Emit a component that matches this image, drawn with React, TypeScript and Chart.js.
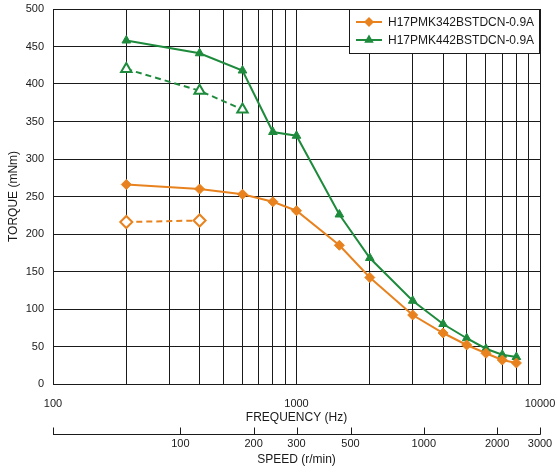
import React, { useEffect, useRef } from 'react';
import { Chart, registerables } from 'chart.js';
Chart.register(...registerables);

// ---- data ----
const freqGrid = [100, 200, 300, 400, 500, 600, 700, 800, 900, 1000, 2000, 3000, 4000, 5000, 6000, 7000, 8000, 9000, 10000];
const freqLabels = [100, 1000, 10000];
const speedTicks = [100, 200, 300, 500, 1000, 2000, 3000];
const torqueTicks = [0, 50, 100, 150, 200, 250, 300, 350, 400, 450, 500];

const seriesNames = ['H17PMK342BSTDCN-0.9A', 'H17PMK442BSTDCN-0.9A'];

const freq342 = [200, 400, 600, 800, 1000, 1500, 2000, 3000, 4000, 5000, 6000, 7000, 8000];
const torque342 = [266, 260, 253, 243, 231, 185, 142, 92, 68, 52, 41, 32, 28];
const freq442 = [200, 400, 600, 800, 1000, 1500, 2000, 3000, 4000, 5000, 6000, 7000, 8000];
const torque442 = [458, 441, 418, 336, 331, 226, 168, 111, 80, 61, 47, 39, 36];

const freq342Dashed = [200, 400];
const torque342Dashed = [216, 218];
const freq442Dashed = [200, 400, 600];
const torque442Dashed = [420, 391, 366];

const ORANGE = '#E8821E';
const GREEN = '#1E8B3C';
const INK = '#1a1a1a';
const FONT = '"Liberation Sans", Arial, Helvetica, sans-serif';

const toXY = (xs: number[], ys: number[]) => xs.map((x, i) => ({ x, y: ys[i] }));

const zeroPad = (s: any) => {
  s.paddingTop = 0;
  s.paddingBottom = 0;
  s.paddingLeft = 0;
  s.paddingRight = 0;
};

const speedAxisPlugin = {
  id: 'speedAxis',
  afterDraw(chart: any) {
    const s = chart.scales.x2;
    const ctx = chart.ctx;
    const y = s.top + 9.5;
    ctx.save();
    ctx.strokeStyle = INK;
    ctx.lineWidth = 1;
    ctx.beginPath();
    ctx.moveTo(s.left, y);
    ctx.lineTo(s.right + 0.5, y);
    const vals = [s.min, ...speedTicks];
    vals.forEach((v) => {
      const px = Math.round(s.getPixelForValue(v)) + 0.5;
      ctx.moveTo(px, y - 7);
      ctx.lineTo(px, y);
    });
    ctx.stroke();
    ctx.restore();
  },
};

const legendPlugin = {
  id: 'boxLegend',
  afterDraw(chart: any) {
    const ctx = chart.ctx;
    const area = chart.chartArea;
    const right = area.right;
    const left = 349;
    const top = area.top;
    const bottom = top + 44;
    ctx.save();
    ctx.fillStyle = '#fff';
    ctx.fillRect(left, top, right - left, bottom - top);
    ctx.strokeStyle = INK;
    ctx.lineWidth = 1;
    ctx.strokeRect(left + 0.5, top + 0.5, right - left - 1, bottom - top);
    const rows = [
      { y: top + 13, color: ORANGE, shape: 'diamond', name: seriesNames[0] },
      { y: top + 31, color: GREEN, shape: 'triangle', name: seriesNames[1] },
    ];
    rows.forEach((r) => {
      ctx.strokeStyle = r.color;
      ctx.lineWidth = 2;
      ctx.beginPath();
      ctx.moveTo(356, r.y);
      ctx.lineTo(382, r.y);
      ctx.stroke();
      ctx.fillStyle = r.color;
      ctx.beginPath();
      const cx = 369;
      if (r.shape === 'diamond') {
        const rr = 5;
        ctx.moveTo(cx, r.y - rr);
        ctx.lineTo(cx + rr, r.y);
        ctx.lineTo(cx, r.y + rr);
        ctx.lineTo(cx - rr, r.y);
      } else {
        const rr = 5.5;
        ctx.moveTo(cx, r.y - rr);
        ctx.lineTo(cx + rr * 0.866, r.y + rr * 0.5);
        ctx.lineTo(cx - rr * 0.866, r.y + rr * 0.5);
      }
      ctx.closePath();
      ctx.fill();
      ctx.fillStyle = INK;
      ctx.font = `12px ${FONT}`;
      ctx.textBaseline = 'middle';
      ctx.textAlign = 'left';
      ctx.fillText(r.name, 388, r.y + 0.5);
    });
    ctx.restore();
  },
};

export default function App() {
  const ref = useRef<HTMLCanvasElement | null>(null);
  useEffect(() => {
    if (!ref.current) return;
    const chart = new Chart(ref.current, {
      type: 'line',
      data: {
        datasets: [
          {
            label: seriesNames[0],
            data: toXY(freq342, torque342),
            borderColor: ORANGE,
            backgroundColor: ORANGE,
            borderWidth: 2,
            pointStyle: 'rectRot',
            pointRadius: 5,
            pointBorderWidth: 1,
            pointBackgroundColor: ORANGE,
            pointBorderColor: ORANGE,
          },
          {
            label: seriesNames[1],
            data: toXY(freq442, torque442),
            borderColor: GREEN,
            backgroundColor: GREEN,
            borderWidth: 2,
            pointStyle: 'triangle',
            pointRadius: 5,
            pointBorderWidth: 1,
            pointBackgroundColor: GREEN,
            pointBorderColor: GREEN,
          },
          {
            label: seriesNames[0] + ' dashed',
            data: toXY(freq342Dashed, torque342Dashed),
            borderColor: ORANGE,
            borderWidth: 2,
            borderDash: [6, 4],
            pointStyle: 'rectRot',
            pointRadius: 6,
            pointBorderWidth: 2,
            pointBackgroundColor: '#fff',
            pointBorderColor: ORANGE,
          },
          {
            label: seriesNames[1] + ' dashed',
            data: toXY(freq442Dashed, torque442Dashed),
            borderColor: GREEN,
            borderWidth: 2,
            borderDash: [6, 4],
            pointStyle: 'triangle',
            pointRadius: 6,
            pointBorderWidth: 2,
            pointBackgroundColor: '#fff',
            pointBorderColor: GREEN,
          },
        ],
      },
      options: {
        responsive: false,
        animation: false,
        devicePixelRatio: 1,
        layout: { padding: { top: 9, right: 17, bottom: 0, left: 0 } },
        plugins: { legend: { display: false }, tooltip: { enabled: false } },
        elements: { line: { tension: 0 } },
        scales: {
          x: {
            type: 'logarithmic',
            position: 'bottom',
            min: 100,
            max: 10000,
            afterBuildTicks: (s: any) => {
              s.ticks = freqGrid.map((v) => ({ value: v }));
            },
            afterFit: (s: any) => {
              s.height = 41;
              zeroPad(s);
            },
            grid: { color: INK, lineWidth: 1, drawTicks: false },
            border: { display: true, color: INK, width: 1 },
            ticks: {
              autoSkip: false,
              maxRotation: 0,
              padding: 13,
              color: INK,
              font: { family: FONT, size: 11 },
              callback: (v: any) => (freqLabels.includes(Number(v)) ? String(v) : ''),
            },
            title: {
              display: true,
              text: 'FREQUENCY (Hz)',
              color: INK,
              font: { family: FONT, size: 12 },
              padding: { top: 0, bottom: 0 },
            },
          },
          x2: {
            type: 'logarithmic',
            position: 'bottom',
            min: 30,
            max: 3000,
            afterBuildTicks: (s: any) => {
              s.ticks = speedTicks.map((v) => ({ value: v }));
            },
            afterFit: (s: any) => {
              s.height = 47;
              zeroPad(s);
            },
            grid: { display: false, drawOnChartArea: false, drawTicks: false },
            border: { display: false },
            ticks: {
              autoSkip: false,
              maxRotation: 0,
              padding: 12,
              color: INK,
              font: { family: FONT, size: 11 },
              callback: (v: any) => String(v),
            },
            title: {
              display: true,
              text: 'SPEED (r/min)',
              color: INK,
              font: { family: FONT, size: 12 },
              padding: { top: 0, bottom: 5 },
            },
          },
          y: {
            type: 'linear',
            min: 0,
            max: 500,
            afterBuildTicks: (s: any) => {
              s.ticks = torqueTicks.map((v) => ({ value: v }));
            },
            afterFit: (s: any) => {
              s.width = 53;
              zeroPad(s);
            },
            grid: { color: INK, lineWidth: 1, drawTicks: false },
            border: { display: true, color: INK, width: 1 },
            ticks: {
              padding: 9,
              color: INK,
              font: { family: FONT, size: 11 },
            },
            title: {
              display: true,
              text: 'TORQUE (mNm)',
              color: INK,
              font: { family: FONT, size: 12 },
              padding: { top: 6, bottom: 0 },
            },
          },
        },
      },
      plugins: [speedAxisPlugin, legendPlugin],
    } as any);
    return () => chart.destroy();
  }, []);
  return (
    <div style={{ position: 'fixed', left: 0, top: 0, width: 557, height: 472, background: '#fff' }}>
      <canvas ref={ref} width={557} height={472} />
    </div>
  );
}
